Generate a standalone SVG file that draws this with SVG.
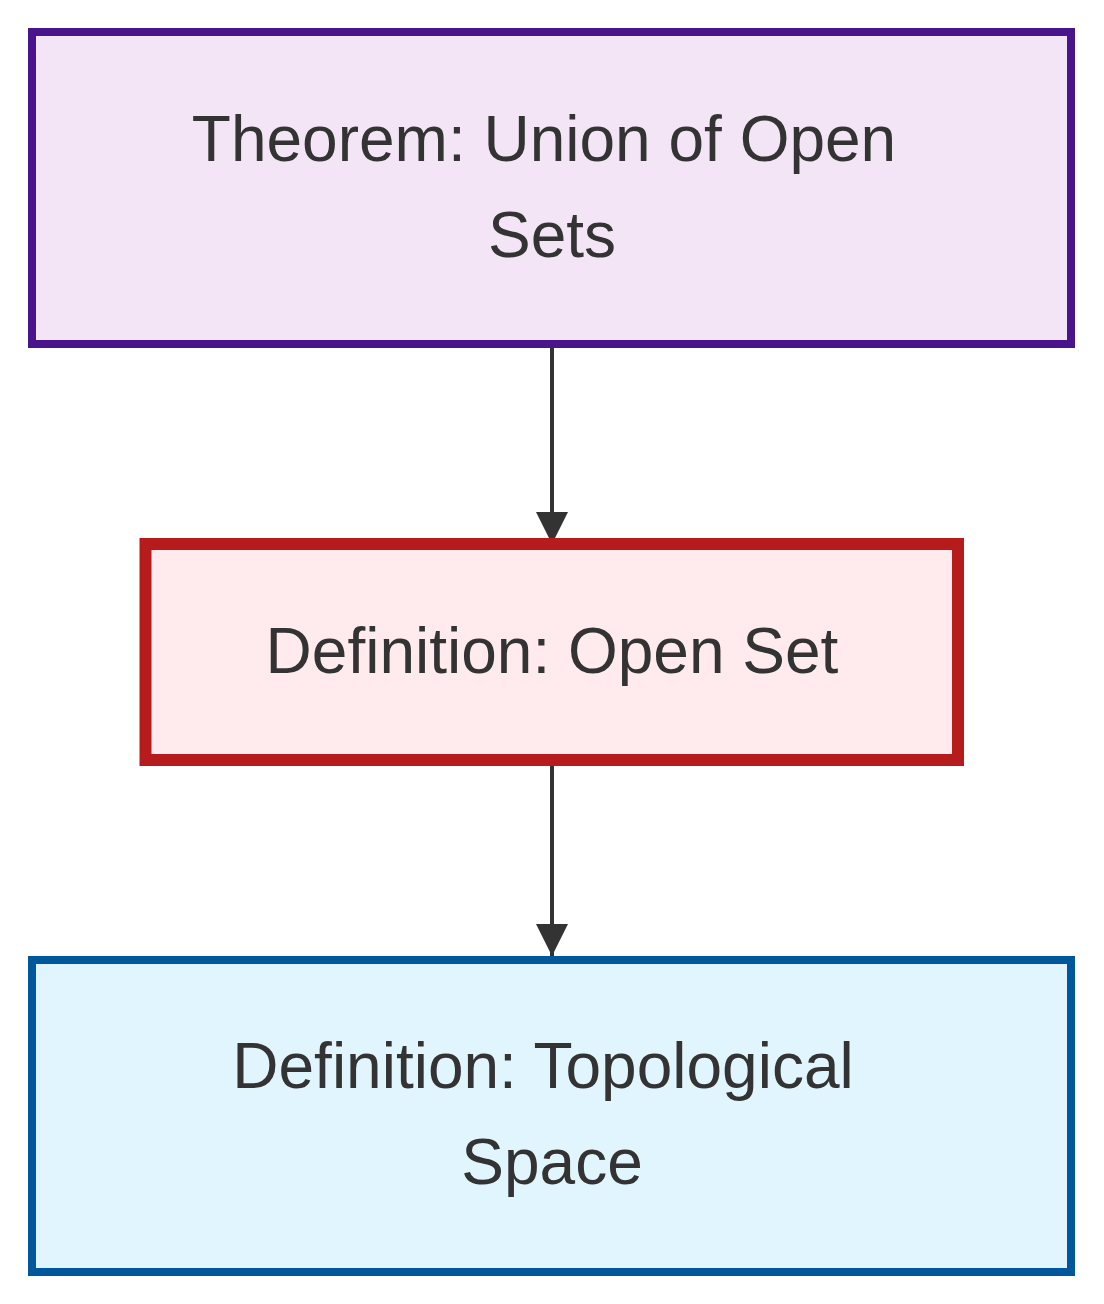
<svg xmlns="http://www.w3.org/2000/svg" width="1104" height="1304" viewBox="0 0 1104 1304">
<style>
text{font-family:"Liberation Sans",Arial,sans-serif;font-size:64px;fill:#333;text-anchor:middle}
.edge{stroke:#333;stroke-width:4;fill:none}
</style>
<defs>
<marker id="arrow" markerUnits="userSpaceOnUse" markerWidth="32" markerHeight="32" refX="32" refY="16" viewBox="0 0 32 32" orient="auto">
<path d="M0,0 L32,16 L0,32 Z" fill="#333"/>
</marker>
</defs>
<rect width="1104" height="1304" fill="#fff"/>
<g id="connectors">
<path class="edge" d="M552,344 L552,544" marker-end="url(#arrow)"/>
<path class="edge" d="M552,760 L552,956" marker-end="url(#arrow)"/>
</g>
<g id="theorem">
<rect x="32" y="32" width="1039" height="312" fill="#f3e5f5" stroke="#4a148c" stroke-width="8"/>
<text x="544" y="161">Theorem: Union of Open</text>
<text x="552" y="257">Sets</text>
</g>
<g id="openset">
<rect x="145.5" y="544" width="812.5" height="216" fill="#ffebee" stroke="#b71c1c" stroke-width="12"/>
<text x="552" y="673">Definition: Open Set</text>
</g>
<g id="topspace">
<rect x="32" y="960" width="1039" height="312" fill="#e1f5fe" stroke="#01579b" stroke-width="8"/>
<text x="543" y="1088">Definition: Topological</text>
<text x="552" y="1184">Space</text>
</g>
</svg>
